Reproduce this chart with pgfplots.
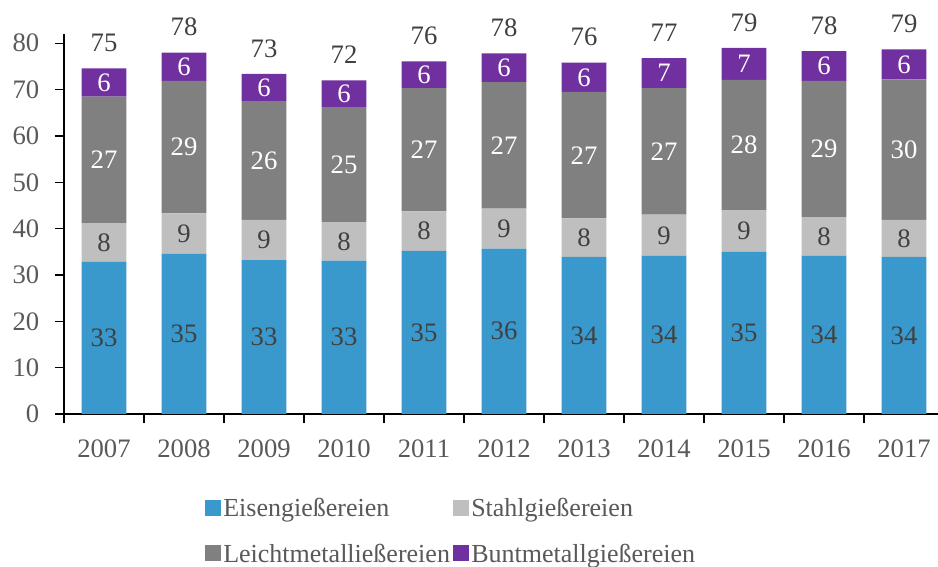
\documentclass[border=0pt]{standalone}
\usepackage{fontspec}
\setmainfont{Liberation Serif}
\usepackage{pgfplots}
\usepackage{pgfplotstable}
\pgfplotsset{compat=1.18}
\definecolor{eisen}{HTML}{3A99CC}
\definecolor{stahl}{HTML}{BFBFBF}
\definecolor{leicht}{HTML}{808080}
\definecolor{bunt}{HTML}{7030A0}
\definecolor{txt}{HTML}{595959}
\definecolor{lbl}{HTML}{404040}

% year index, segment heights, printed labels, total
\pgfplotstableread{
x  eisen stahl leicht bunt el sl ll bl tot
0  32.8  8.4   27.3   6.1  33 8  27 6  75
1  34.6  8.7   28.6   6.1  35 9  29 6  78
2  33.2  8.7   25.6   5.9  33 9  26 6  73
3  33.1  8.3   24.8   5.8  33 8  25 6  72
4  35.2  8.5   26.6   5.8  35 8  27 6  76
5  35.7  8.6   27.3   6.2  36 9  27 6  78
6  33.9  8.3   27.3   6.3  34 8  27 6  76
7  34.1  8.9   27.3   6.5  34 9  27 7  77
8  35.0  9.0   28.1   6.9  35 9  28 7  79
9  34.1  8.4   29.4   6.4  34 8  29 6  78
10 33.9  8.0   30.3   6.5  34 8  30 6  79
}\data

\pgfplotsset{
  base/.style={
    scale only axis,
    width=655.5pt, height=285pt,
    xmin=-0.5, xmax=10.425, ymin=0, ymax=82,
    /pgf/number format/assume math mode=true,
  },
}

\begin{document}
\fontsize{20}{24}\selectfont
\begin{tikzpicture}
\begin{axis}[
    base, name=main,
    ybar stacked, bar width=33.5pt,
    axis lines=left,
    axis line style={-, line width=0.9pt, black},
    xtick={0,...,10},
    xticklabels={2007,2008,2009,2010,2011,2012,2013,2014,2015,2016,2017},
    minor xtick={-0.5,0.5,...,9.5},
    ytick={0,10,...,80},
    tick align=outside,
    major tick length=6.75pt, minor tick length=6.75pt,
    x tick style={draw=none},
    minor x tick style={draw=black, line width=0.9pt},
    y tick style={line width=0.9pt, black},
    tick label style={font=\fontsize{20}{24}\selectfont, text=txt},
    yticklabel style={xshift=-5pt},
    xticklabel style={yshift=-6pt},
    point meta=explicit,
    nodes near coords,
    every node near coord/.append style={font=\fontsize{20}{24}\selectfont, anchor=center},
    legend columns=2,
    legend cell align=left,
    legend style={draw=none, at={(0.156,-0.208)}, anchor=north west,
        font=\fontsize{19.5}{23}\selectfont, text=txt,
        /tikz/every even column/.append style={column sep=0pt},
        /tikz/row sep=13.5pt},
    legend image code/.code={\fill[#1] (6pt,-4.5pt) rectangle (18pt,7.5pt);},
]
\addplot[fill=eisen, draw=none, every node near coord/.append style={text=lbl}]
    table[x=x, y=eisen, meta=el] {\data};
\addplot[fill=stahl, draw=none, every node near coord/.append style={text=lbl}]
    table[x=x, y=stahl, meta=sl] {\data};
\addplot[fill=leicht, draw=none, every node near coord/.append style={text=white}]
    table[x=x, y=leicht, meta=ll] {\data};
\addplot[fill=bunt, draw=none, every node near coord/.append style={text=white}]
    table[x=x, y=bunt, meta=bl] {\data};
\legend{Eisengießereien, Stahlgießereien, Leichtmetalließereien, Buntmetallgießereien}
\end{axis}
% totals above each bar
\begin{axis}[base, hide axis, clip=false, point meta=explicit]
\addplot[draw=none, mark=none, nodes near coords,
    every node near coord/.append style={font=\fontsize{20}{24}\selectfont,
        text=lbl, anchor=south, yshift=5.5pt}]
    table[x=x, y expr=\thisrow{eisen}+\thisrow{stahl}+\thisrow{leicht}+\thisrow{bunt}, meta=tot] {\data};
\end{axis}
\pgfresetboundingbox
\path[use as bounding box] ([xshift=-48pt,yshift=-114.75pt]main.south west)
    rectangle ([yshift=25.5pt]main.north east);
\end{tikzpicture}
\end{document}
